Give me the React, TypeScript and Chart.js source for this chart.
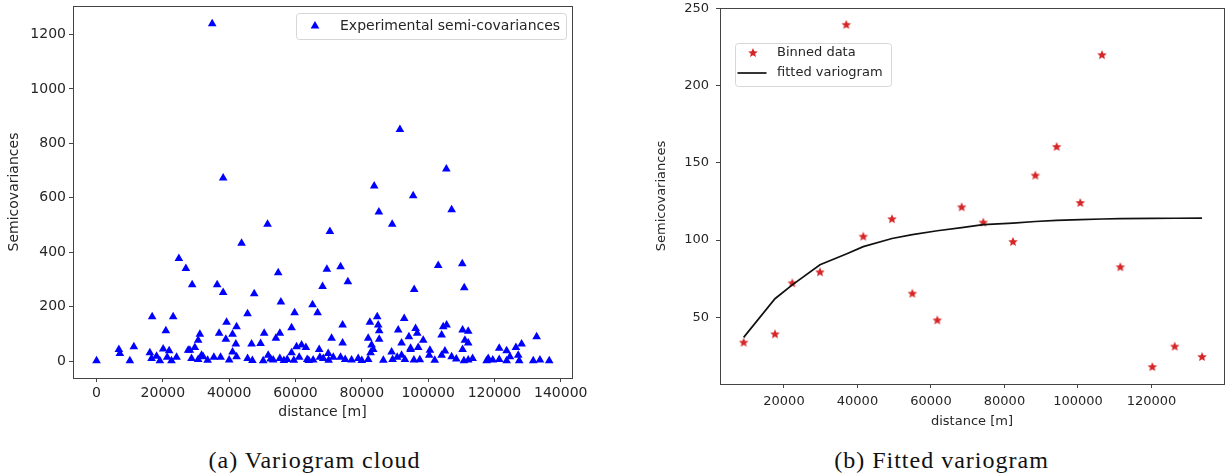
import React, { useEffect, useRef } from "react";
import { Chart, registerables } from "chart.js";

Chart.register(...registerables);

// ---------- data: (a) variogram cloud ----------
const cloudDistance = [
  34880, 38190, 83740, 91500, 105500, 95500, 107100, 85150, 89170, 51580, 70380, 43740, 24830, 26940, 28840, 36380,
  38190, 47550, 54790, 69470, 73600, 68170, 75800, 103050, 110300, 95800, 110900, 65150, 66670, 59730, 45540, 55600,
  16770, 23110, 20900, 39210, 42230, 36980, 31160, 41020, 50560, 58820, 30650, 39000, 42020, 55290, 54090, 46760,
  49470, 74210, 82440, 84650, 84950, 85250, 92790, 90980, 96230, 96720, 94210, 98530, 104560, 104080, 70890, 74210,
  81930, 85250, 82950, 92000, 94720, 97020, 100550, 105580, 110400, 112100, 111100, 112100, 110400, 132730, 128200, 126490,
  121450, 123680, 105070,
  6730, 7030, 11250, 0, 10050, 16080, 16590, 18100, 20100, 21300, 21900, 19100, 22600, 24130, 28150, 28650,
  29650, 30650, 31670, 32160, 35390, 37410, 40000, 41020, 42230, 45550, 50260, 51770, 53280, 55290, 57500, 58820,
  60330, 61840, 63140, 61120, 63530, 65340, 67150, 67360, 69870, 68380, 71390, 73600, 76920, 78920, 81930, 82650,
  83450, 88990, 89290, 90680, 92000, 93000, 94720, 95720, 100330, 104080, 107090, 110800, 113420, 112100, 118130, 117650,
  121450, 123680, 124680, 127180, 127480, 131710, 133730, 136530,
  27640, 33500, 47000, 52500, 56500, 59500, 64000, 70000, 75000, 80000, 86500, 97500, 102000, 108500, 119500,
];
const cloudSemivariance = [
  1240, 673, 644, 851, 706, 608, 556, 548, 503, 503, 476, 433, 377, 340, 281, 281,
  252, 248, 325, 338, 347, 274, 292, 351, 358, 263, 270, 207, 178, 178, 174, 217,
  163, 163, 112, 143, 126, 102, 99, 99, 102, 123, 77, 80, 63, 102, 84, 63,
  65, 133, 143, 163, 133, 112, 157, 114, 120, 102, 90, 77, 126, 96, 84, 67,
  84, 80, 59, 67, 47, 50, 40, 133, 114, 110, 77, 67, 43, 90, 63, 50,
  47, 38, 37,
  43, 28, 53, 1, 1, 31, 10, 18, 45, 14, 38, 1, 1, 14, 40, 10,
  50, 6, 22, 16, 14, 14, 4, 34, 16, 10, 1, 22, 4, 10, 6, 31,
  53, 59, 50, 14, 6, 4, 43, 14, 28, 10, 14, 14, 4, 10, 6, 31,
  43, 34, 6, 14, 22, 6, 43, 4, 22, 22, 16, 1, 10, 4, 10, 1,
  6, 1, 16, 22, 1, 1, 4, 1,
  40, 3, 2, 8, 2, 3, 2, 3, 6, 2, 3, 5, 3, 8, 4,
];
const cloudXTicks = [0, 20000, 40000, 60000, 80000, 100000, 120000, 140000];
const cloudYTicks = [0, 200, 400, 600, 800, 1000, 1200];

// ---------- data: (b) fitted variogram ----------
const binDistance = [
  9030, 17550, 22260, 29800, 36950, 41580, 49390, 54920, 61720, 68350,
  74230, 82310, 88390, 94200, 100630, 106530, 111520, 120230, 126320, 133750,
];
const binSemivariance = [
  33.6, 39, 72, 79.1, 239.3, 102.2, 113.5, 65.3, 48, 121.2,
  111.3, 98.8, 141.7, 160.3, 124, 219.7, 82.4, 17.8, 31, 24.3,
];
const fittedSemivariance = [
  37, 62, 71, 84, 91, 95.7, 101, 103.5, 106, 108,
  110, 111, 112, 112.7, 113.2, 113.6, 113.8, 114, 114.1, 114.2,
];
const binXTicks = [20000, 40000, 60000, 80000, 100000, 120000];
const binYTicks = [50, 100, 150, 200, 250];

// ---------- styling helpers ----------
const INK = "#262626";
const SPINE = "#444444";
const SANS = "'DejaVu Sans', sans-serif";
const BLUE = "#0000ff";
const RED = "#d62728";

function makeStar(color: string, outer: number, inner: number) {
  const size = Math.ceil(outer * 2 + 2);
  const c = document.createElement("canvas");
  c.width = size;
  c.height = size;
  const g = c.getContext("2d")!;
  g.beginPath();
  for (let i = 0; i < 10; i++) {
    const r = i % 2 === 0 ? outer : inner;
    const a = -Math.PI / 2 + (i * Math.PI) / 5;
    const px = size / 2 + r * Math.cos(a);
    const py = size / 2 + r * Math.sin(a);
    if (i === 0) g.moveTo(px, py);
    else g.lineTo(px, py);
  }
  g.closePath();
  g.fillStyle = color;
  g.fill();
  return c;
}

function drawTriangle(ctx: CanvasRenderingContext2D, x: number, y: number, r: number, color: string) {
  ctx.beginPath();
  for (let i = 0; i < 3; i++) {
    const a = -Math.PI / 2 + (i * 2 * Math.PI) / 3;
    const px = x + r * Math.cos(a);
    const py = y + r * Math.sin(a);
    if (i === 0) ctx.moveTo(px, py);
    else ctx.lineTo(px, py);
  }
  ctx.closePath();
  ctx.fillStyle = color;
  ctx.fill();
}

const framePlugin = {
  id: "mplFrame",
  afterDatasetsDraw(chart: any) {
    const { ctx, chartArea } = chart;
    const { left, top, right, bottom } = chartArea;
    ctx.save();
    ctx.strokeStyle = SPINE;
    ctx.lineWidth = 1;
    ctx.strokeRect(Math.round(left) + 0.5, Math.round(top) + 0.5, Math.round(right - left), Math.round(bottom - top));
    ctx.restore();
  },
};

type LegendItem = {
  kind: "triangle" | "image" | "line";
  label: string;
  mx: number;
  my: number;
  tx: number;
  color?: string;
  image?: HTMLCanvasElement;
};

function makeLegendPlugin(box: { x: number; y: number; w: number; h: number; fontSize: number }, items: LegendItem[]) {
  return {
    id: "mplLegend",
    afterDraw(chart: any) {
      const ctx: CanvasRenderingContext2D = chart.ctx;
      ctx.save();
      ctx.beginPath();
      (ctx as any).roundRect(box.x + 0.5, box.y + 0.5, box.w, box.h, 3);
      ctx.fillStyle = "rgba(255,255,255,0.8)";
      ctx.fill();
      ctx.strokeStyle = "#d6d6d6";
      ctx.lineWidth = 1;
      ctx.stroke();
      ctx.font = `${box.fontSize}px ${SANS}`;
      ctx.textBaseline = "middle";
      ctx.textAlign = "left";
      for (const it of items) {
        if (it.kind === "triangle") {
          drawTriangle(ctx, it.mx, it.my, 5, it.color || BLUE);
        } else if (it.kind === "image" && it.image) {
          ctx.drawImage(it.image, it.mx - it.image.width / 2, it.my - it.image.height / 2);
        } else if (it.kind === "line") {
          ctx.beginPath();
          ctx.moveTo(it.mx - 14.5, it.my);
          ctx.lineTo(it.mx + 14.5, it.my);
          ctx.strokeStyle = it.color || "#000";
          ctx.lineWidth = 1.7;
          ctx.stroke();
        }
        ctx.fillStyle = INK;
        ctx.fillText(it.label, it.tx, it.my);
      }
      ctx.restore();
    },
  };
}

function axis(opts: {
  min: number;
  max: number;
  ticks: number[];
  fit: (s: any) => void;
  size: number;
  tickPad: number;
  title: string;
  titlePad: any;
}) {
  return {
    type: "linear",
    min: opts.min,
    max: opts.max,
    afterBuildTicks: (s: any) => {
      s.ticks = opts.ticks.map((v) => ({ value: v }));
    },
    afterFit: (s: any) => {
      opts.fit(s);
      s.paddingTop = 0;
      s.paddingBottom = 0;
      s.paddingLeft = 0;
      s.paddingRight = 0;
    },
    ticks: {
      callback: (v: any) => String(v),
      font: { family: SANS, size: opts.size },
      color: INK,
      padding: opts.tickPad,
      autoSkip: false,
      maxRotation: 0,
      minRotation: 0,
    },
    grid: { drawOnChartArea: false, drawTicks: true, tickLength: 4, tickColor: SPINE, lineWidth: 1 },
    border: { display: false },
    title: {
      display: true,
      text: opts.title,
      font: { family: SANS, size: opts.size },
      color: INK,
      padding: opts.titlePad,
    },
  };
}

function CloudChart() {
  const ref = useRef<HTMLCanvasElement>(null);
  useEffect(() => {
    const canvas = ref.current!;
    const legend = makeLegendPlugin({ x: 296, y: 13, w: 270, h: 26, fontSize: 14 }, [
      { kind: "triangle", label: "Experimental semi-covariances", mx: 315, my: 26, tx: 340, color: BLUE },
    ]);
    const chart = new Chart(canvas, {
      type: "scatter",
      data: {
        datasets: [
          {
            label: "Experimental semi-covariances",
            data: cloudDistance.map((d, i) => ({ x: d, y: cloudSemivariance[i] })),
            pointStyle: "triangle",
            pointRadius: 5,
            pointBackgroundColor: BLUE,
            pointBorderColor: BLUE,
            pointBorderWidth: 0,
            showLine: false,
          },
        ],
      },
      options: {
        animation: false,
        responsive: false,
        devicePixelRatio: 1,
        layout: { padding: { top: 6, right: 28, left: 0, bottom: 0 } },
        plugins: { legend: { display: false }, tooltip: { enabled: false } },
        scales: {
          x: axis({
            min: -7100,
            max: 143400,
            ticks: cloudXTicks,
            fit: (s) => {
              s.height = 52;
            },
            size: 14,
            tickPad: 3,
            title: "distance [m]",
            titlePad: { top: 0, bottom: 9.6 },
          }),
          y: axis({
            min: -62,
            max: 1305,
            ticks: cloudYTicks,
            fit: (s) => {
              s.width = 73;
            },
            size: 14,
            tickPad: 3,
            title: "Semicovariances",
            titlePad: { top: 5.6, bottom: 0 },
          }),
        },
      } as any,
      plugins: [framePlugin, legend],
    });
    return () => chart.destroy();
  }, []);
  return (
    <canvas
      ref={ref}
      width={600}
      height={430}
      style={{ position: "absolute", left: 0, top: 0, width: 600, height: 430 }}
    />
  );
}

function FittedChart() {
  const ref = useRef<HTMLCanvasElement>(null);
  useEffect(() => {
    const canvas = ref.current!;
    const star = makeStar(RED, 5, 2.3);
    const legend = makeLegendPlugin({ x: 115, y: 43, w: 156, h: 43, fontSize: 13 }, [
      { kind: "image", label: "Binned data", mx: 133, my: 53, tx: 157, image: star },
      { kind: "line", label: "fitted variogram", mx: 132, my: 73, tx: 157, color: "#111111" },
    ]);
    const chart = new Chart(canvas, {
      type: "scatter",
      data: {
        datasets: [
          {
            label: "fitted variogram",
            data: binDistance.map((d, i) => ({ x: d, y: fittedSemivariance[i] })),
            showLine: true,
            borderColor: "#111111",
            borderWidth: 1.7,
            pointRadius: 0,
            tension: 0,
            order: 0,
          },
          {
            label: "Binned data",
            data: binDistance.map((d, i) => ({ x: d, y: binSemivariance[i] })),
            pointStyle: star,
            pointRadius: 5,
            showLine: false,
            order: 1,
          },
        ],
      },
      options: {
        animation: false,
        responsive: false,
        devicePixelRatio: 1,
        layout: { padding: { top: 8, right: 8, left: 0, bottom: 0 } },
        plugins: { legend: { display: false }, tooltip: { enabled: false } },
        scales: {
          x: axis({
            min: 2590,
            max: 139730,
            ticks: binXTicks,
            fit: (s) => {
              s.height = 56;
            },
            size: 13,
            tickPad: 6,
            title: "distance [m]",
            titlePad: { top: 0, bottom: 10.5 },
          }),
          y: axis({
            min: 6.8,
            max: 250.2,
            ticks: binYTicks,
            fit: (s) => {
              s.width = 100;
            },
            size: 13,
            tickPad: 7,
            title: "Semicovariances",
            titlePad: { top: 34.2, bottom: 0 },
          }),
        },
      } as any,
      plugins: [framePlugin, legend],
    });
    return () => chart.destroy();
  }, []);
  return (
    <canvas
      ref={ref}
      width={612}
      height={440}
      style={{ position: "absolute", left: 620, top: 0, width: 612, height: 440 }}
    />
  );
}

const captionStyle: React.CSSProperties = {
  position: "absolute",
  top: 446,
  width: 400,
  textAlign: "center",
  fontFamily: "'Liberation Serif', serif",
  fontSize: 24,
  lineHeight: "28px",
  letterSpacing: "1px",
  color: "#111",
  whiteSpace: "nowrap",
};

export default function App() {
  return (
    <div
      style={{
        position: "fixed",
        left: 0,
        top: 0,
        width: 1232,
        height: 476,
        background: "#ffffff",
        overflow: "hidden",
      }}
    >
      <CloudChart />
      <FittedChart />
      <div style={{ ...captionStyle, left: 314.5 - 200 }}>(a) Variogram cloud</div>
      <div style={{ ...captionStyle, left: 941.5 - 200 }}>(b) Fitted variogram</div>
    </div>
  );
}
